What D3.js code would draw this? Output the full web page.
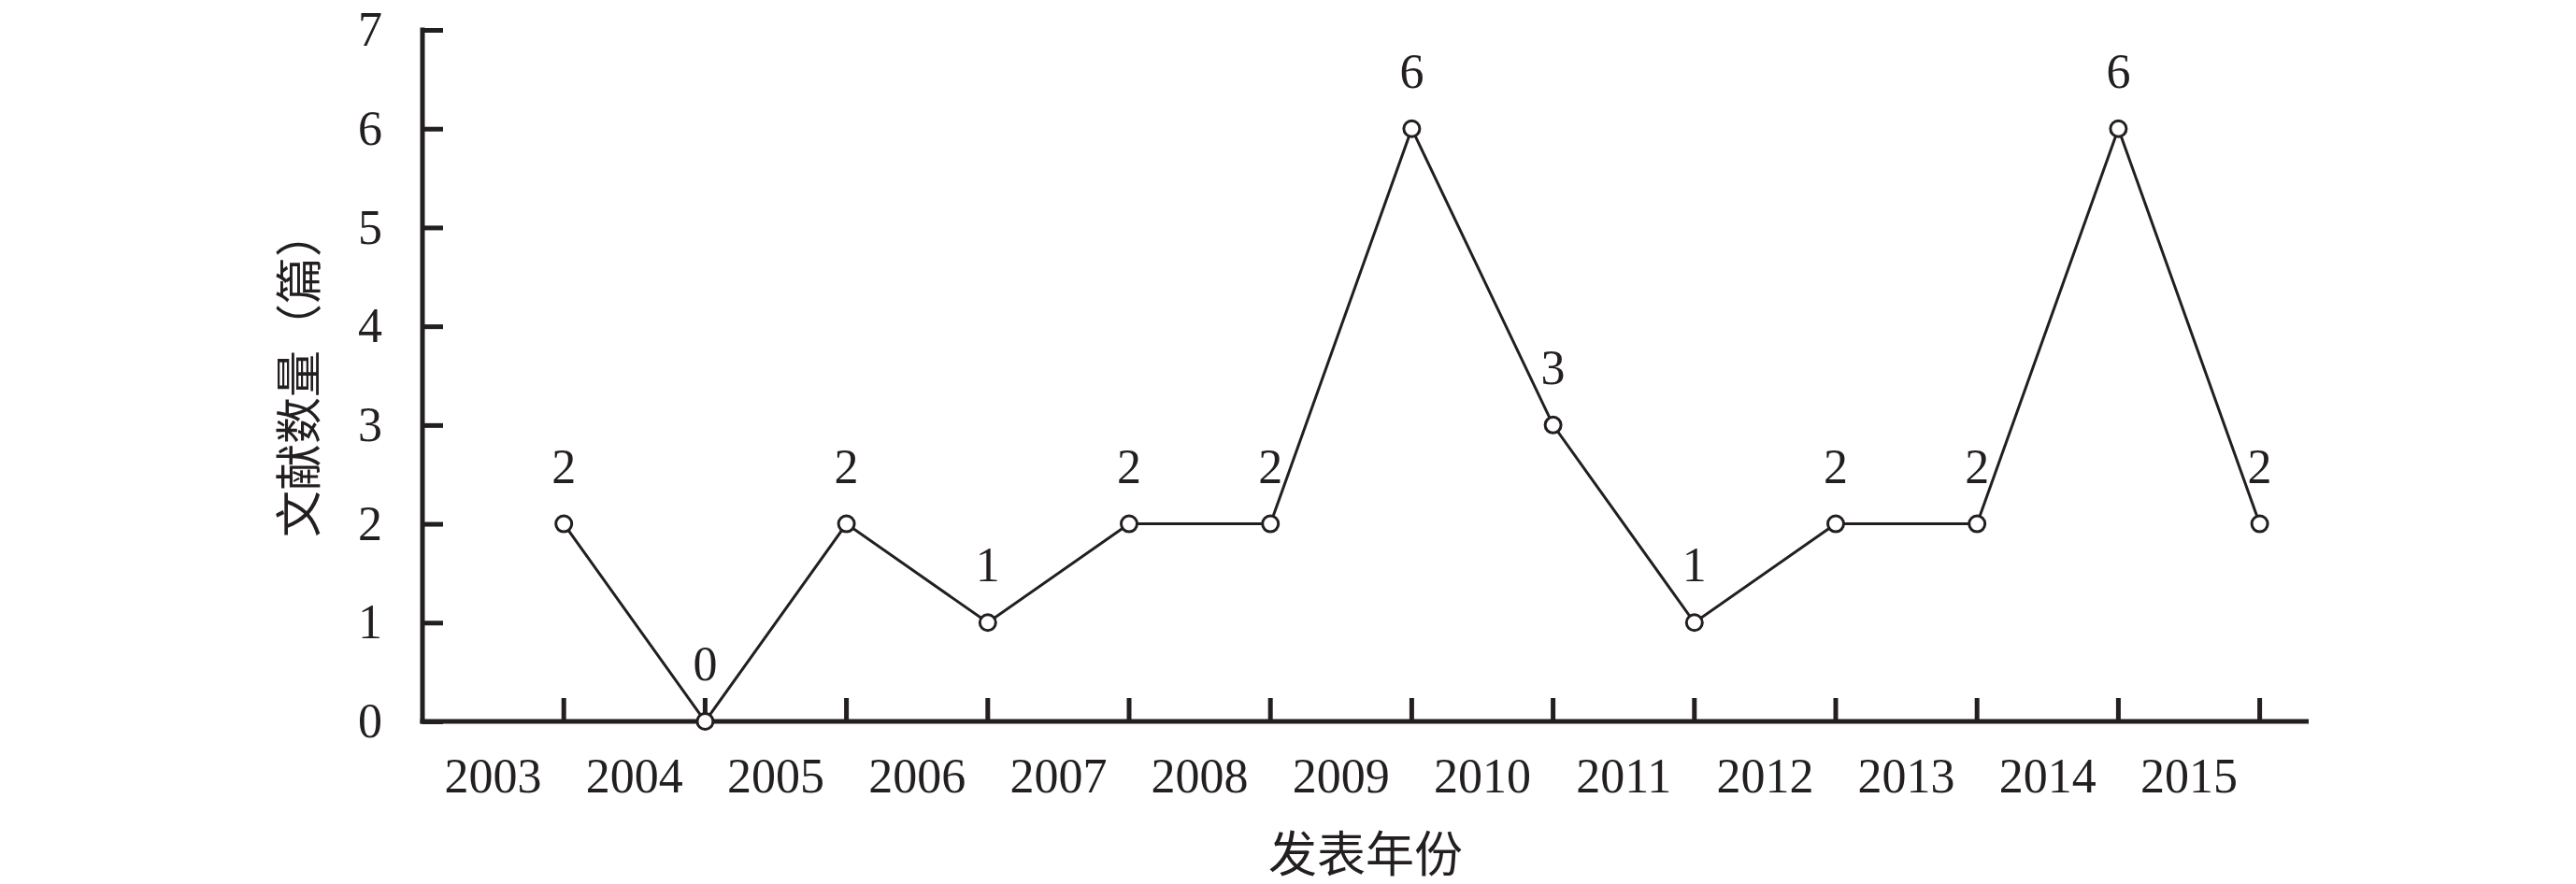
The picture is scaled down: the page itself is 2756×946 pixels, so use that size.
<!DOCTYPE html>
<html>
<head>
<meta charset="utf-8">
<script src="https://cdn.jsdelivr.net/npm/d3@7/dist/d3.min.js"></script>
<style>
  html, body { margin: 0; padding: 0; background: #fff; }
  svg { display: block; }
</style>
</head>
<body>
<svg id="chart" width="2756" height="946"></svg>
<script>
// ---- data ----
const years = ["2003","2004","2005","2006","2007","2008","2009","2010","2011","2012","2013","2014","2015"];
const counts = [2, 0, 2, 1, 2, 2, 6, 3, 1, 2, 2, 6, 2];
const yTicks = [0, 1, 2, 3, 4, 5, 6, 7];
const xTitle = "发表年份";
const yTitle = "文献数量（篇）";

// ---- layout ----
const ink = "#231f20";
const serif = "'Liberation Serif', 'Times New Roman', serif";
const cjk = "'Noto Sans CJK SC', 'Noto Sans CJK JP', sans-serif";
const x0 = 452, bandW = 151.2;
const axisEnd = 2470;
const yBottom = 772, yTop = 32;

const svg = d3.select("#chart");

const x = d3.scaleBand().domain(years).range([x0, x0 + bandW * years.length]).padding(0);
const y = d3.scaleLinear().domain([0, 7]).range([yBottom, yTop]);
const px = d => x(d) + x.bandwidth(); // points sit on band boundaries

// y axis
const yAxis = d3.axisLeft(y).tickValues(yTicks).tickFormat(d3.format("d"))
  .tickSizeInner(-22).tickSizeOuter(0).tickPadding(43);
const gy = svg.append("g").attr("transform", `translate(${x0},0)`).call(yAxis);
gy.select(".domain").remove();
gy.selectAll(".tick line").attr("stroke", ink).attr("stroke-width", 5);
gy.selectAll(".tick text").attr("fill", ink).style("font-family", serif).style("font-size", "52px");
svg.append("line").attr("x1", x0).attr("x2", x0).attr("y1", y(7) - 2.5).attr("y2", yBottom + 2.5)
  .attr("stroke", ink).attr("stroke-width", 5);

// x axis
const gx = svg.append("g");
gx.append("line").attr("x1", x0 - 2.5).attr("x2", axisEnd).attr("y1", yBottom).attr("y2", yBottom)
  .attr("stroke", ink).attr("stroke-width", 5);
gx.selectAll("line.tick").data(years).join("line").attr("class", "tick")
  .attr("x1", d => px(d)).attr("x2", d => px(d)).attr("y1", yBottom).attr("y2", yBottom - 25)
  .attr("stroke", ink).attr("stroke-width", 5);
gx.selectAll("text.lab").data(years).join("text").attr("class", "lab")
  .attr("x", d => x(d) + x.bandwidth() / 2).attr("y", 848)
  .attr("text-anchor", "middle").attr("fill", ink)
  .style("font-family", serif).style("font-size", "52px")
  .text(d => d);

// titles
svg.append("text").attr("x", (x0 + axisEnd) / 2).attr("y", 910)
  .attr("text-anchor", "middle").attr("dominant-baseline", "central").attr("fill", ink)
  .style("font-family", cjk).style("font-size", "52px").text(xTitle);
svg.append("text").attr("transform", `translate(316,400) rotate(-90)`)
  .attr("text-anchor", "middle").attr("dominant-baseline", "central").attr("fill", ink)
  .style("font-family", cjk).style("font-size", "50px").text(yTitle);

// line
const data = years.map((yr, i) => ({ yr, v: counts[i] }));
const line = d3.line().x(d => px(d.yr)).y(d => y(d.v));
svg.append("path").datum(data).attr("d", line).attr("fill", "none")
  .attr("stroke", ink).attr("stroke-width", 3).attr("stroke-linejoin", "miter");

svg.selectAll("circle.pt").data(data).join("circle").attr("class", "pt")
  .attr("cx", d => px(d.yr)).attr("cy", d => y(d.v)).attr("r", 8.5)
  .attr("fill", "#fff").attr("stroke", ink).attr("stroke-width", 3);

svg.selectAll("text.val").data(data).join("text").attr("class", "val")
  .attr("x", d => px(d.yr)).attr("y", d => y(d.v) - 44)
  .attr("text-anchor", "middle").attr("fill", ink)
  .style("font-family", serif).style("font-size", "52px")
  .text(d => d.v);
</script>
</body>
</html>
